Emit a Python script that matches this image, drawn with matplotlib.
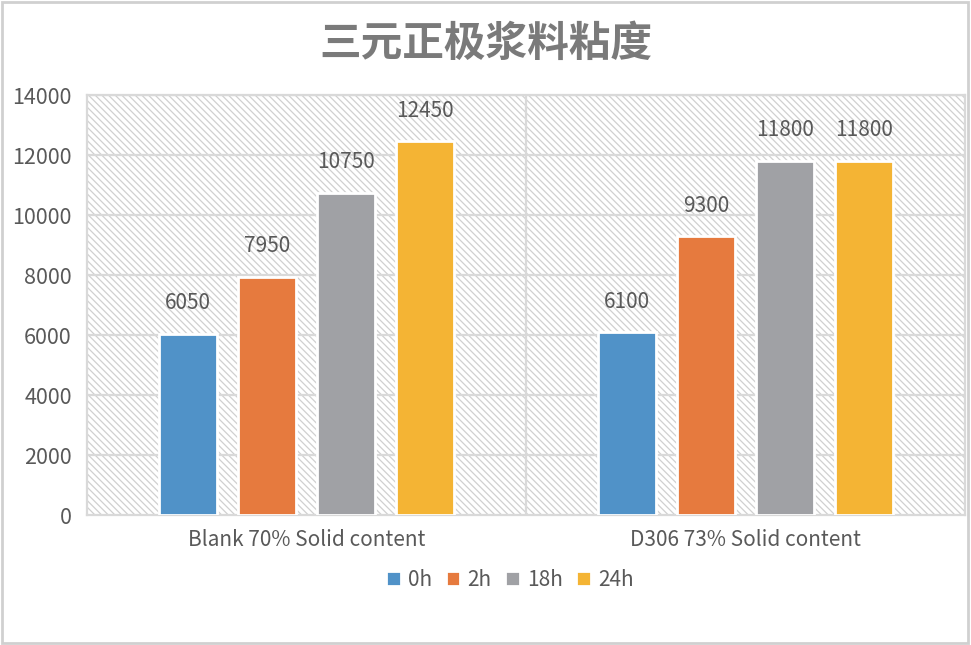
import numpy as np
import matplotlib
matplotlib.use("Agg")
import matplotlib.pyplot as plt
from matplotlib.patches import Rectangle

plt.rcParams['font.family'] = ['Noto Sans CJK SC', 'DejaVu Sans']
plt.rcParams['hatch.linewidth'] = 0.9

# data
title = "三元正极浆料粘度"
categories = ["Blank 70% Solid content", "D306 73% Solid content"]
series_names = ["0h", "2h", "18h", "24h"]
values_0h = [6050, 6100]
values_2h = [7950, 9300]
values_18h = [10750, 11800]
values_24h = [12450, 11800]
yticks = [0, 2000, 4000, 6000, 8000, 10000, 12000, 14000]

colors = ['#5092C8', '#E67A3E', '#A0A1A5', '#F4B434']
text_gray = '#595959'
grid_gray = '#d9d9d9'

fig = plt.figure(figsize=(9.71, 6.45), dpi=100)
ax = fig.add_axes([87 / 971, 130 / 645, 878 / 971, 420 / 645])
ax.set_facecolor('white')

# hatched plot-area background
ax.add_patch(Rectangle((0, 0), 1, 1, transform=ax.transAxes, facecolor='white',
                       edgecolor='#d0d0d0', linewidth=0, hatch='\\' * 5, zorder=0))

x = np.arange(len(categories))
step = 0.18
width = 0.132
all_vals = [values_0h, values_2h, values_18h, values_24h]
for i, (name, vals) in enumerate(zip(series_names, all_vals)):
    pos = x + (i - 1.5) * step
    ax.bar(pos, vals, width, color=colors[i], edgecolor='white', linewidth=2.0,
           label=name, zorder=3)
    for px, v in zip(pos, vals):
        ax.text(px, v + 650, str(v), ha='center', va='bottom', fontsize=15,
                color=text_gray, zorder=4)

ax.set_xlim(-0.5, 1.5)
ax.set_ylim(0, 14000)
ax.set_yticks(yticks)
ax.set_yticklabels([str(t) for t in yticks], fontsize=15.5, color=text_gray)
ax.set_xticks(x)
ax.set_xticklabels(categories, fontsize=15, color=text_gray)
ax.tick_params(axis='both', length=0)
ax.tick_params(axis='y', pad=11)
ax.tick_params(axis='x', pad=10)

for t in yticks[1:]:
    ax.axhline(t, color=grid_gray, lw=1.6, zorder=1)
ax.axvline(0.5, color=grid_gray, lw=1.6, zorder=1)
for side in ['left', 'right', 'top', 'bottom']:
    ax.spines[side].set_color(grid_gray)
    ax.spines[side].set_linewidth(1.6)

fig.text(0.5, 1 - 44 / 645, title, ha='center', va='center', fontsize=30,
         fontweight='bold', color='#7a7a7a')

leg = fig.legend(loc='center', bbox_to_anchor=(510 / 971, 1 - 580 / 645), ncol=4,
                 frameon=False, fontsize=15, handlelength=0.7, handleheight=0.7,
                 handletextpad=0.35, columnspacing=0.65)
for t in leg.get_texts():
    t.set_color(text_gray)

# outer figure border
fig.add_artist(Rectangle((0.002, 0.003), 0.995, 0.994, transform=fig.transFigure,
                         fill=False, edgecolor='#d0d0d0', lw=2))

fig.savefig('out.png', dpi=100)
